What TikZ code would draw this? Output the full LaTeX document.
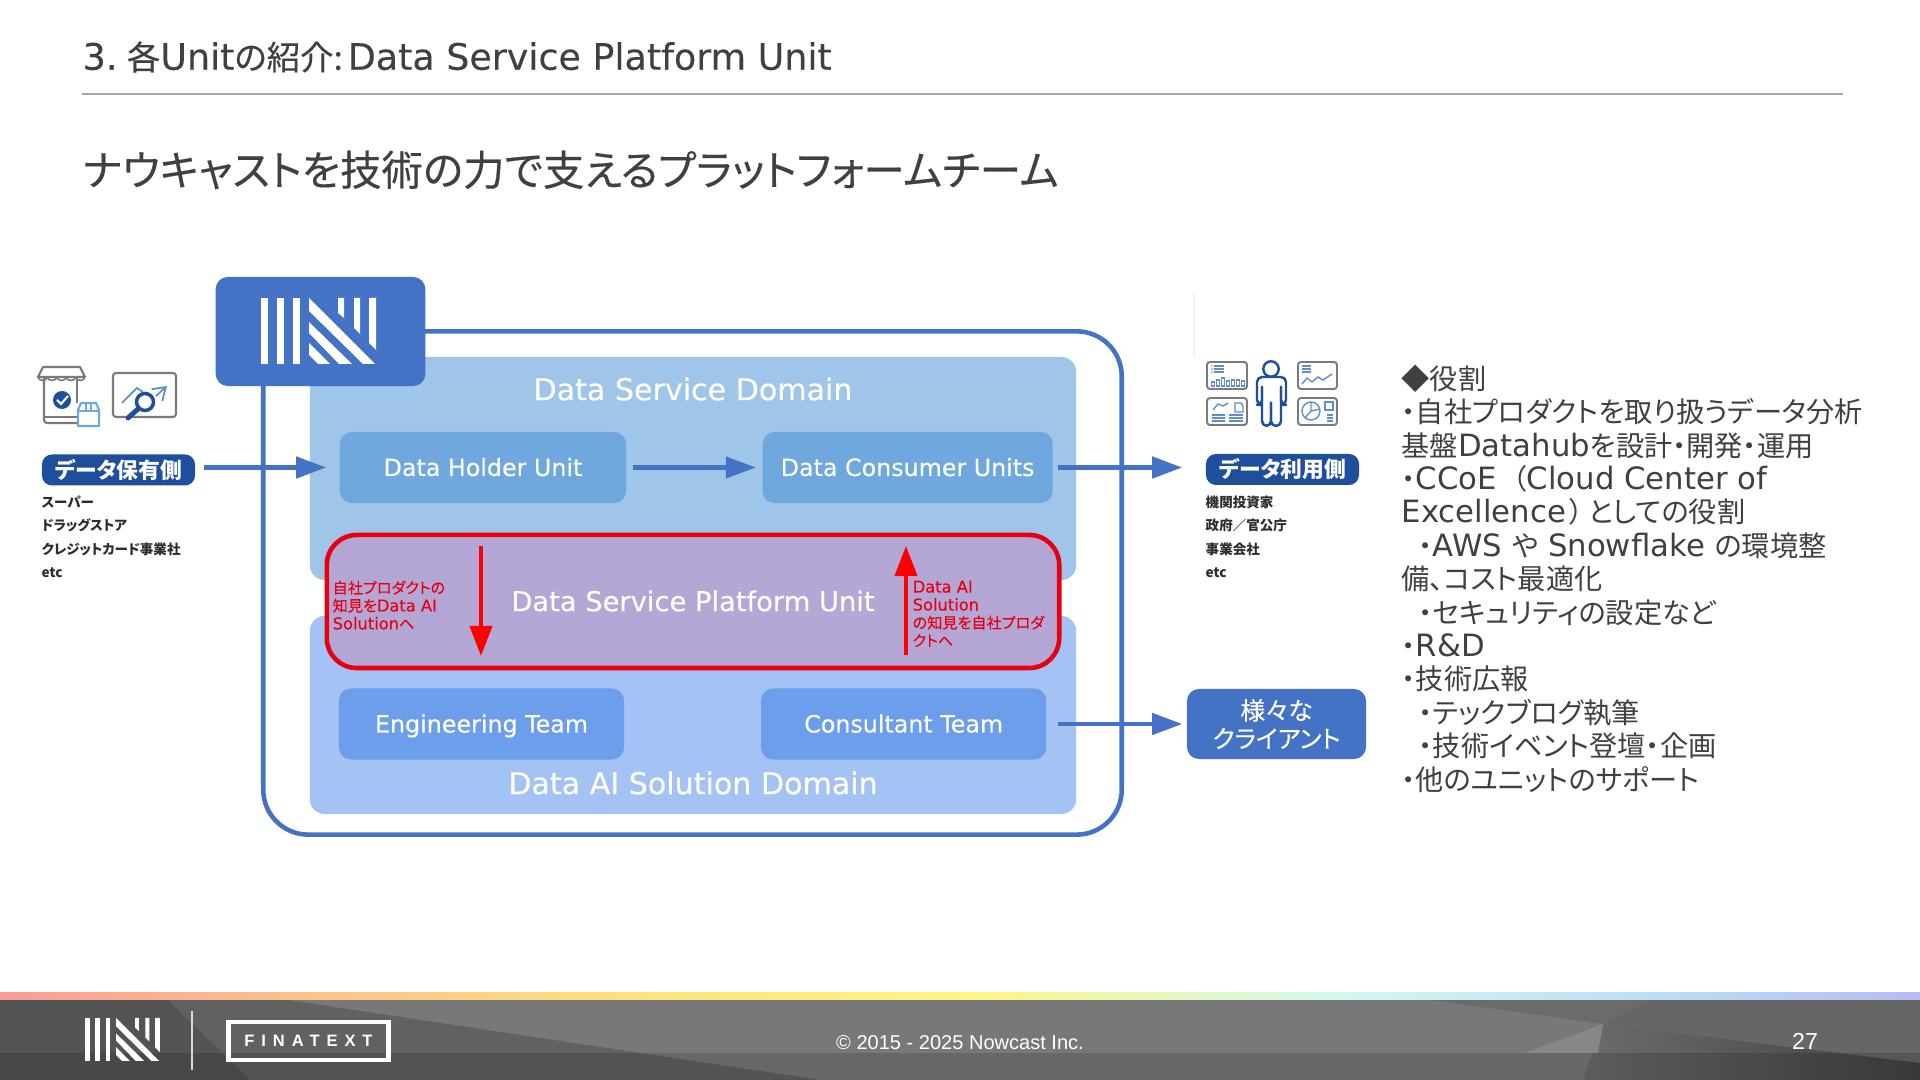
\documentclass[tikz,border=0pt]{standalone}
\usepackage{fontspec}
\setmainfont{DejaVu Sans}[Scale=1.09]
\newfontfamily\jpfont{Noto Sans CJK JP}[RawFeature=+palt]
\newfontfamily\jpmid{Noto Sans CJK JP}[RawFeature=+palt,FakeBold=.3]
\newfontfamily\latinmid{DejaVu Sans}[Scale=1.09,FakeBold=.2]
\newfontfamily\footfont{Liberation Sans}
\newfontfamily\brandfont{Liberation Sans}[LetterSpace=42]
\newcommand{\jp}[1]{{\jpfont #1}}
\newcommand{\jpm}[1]{{\jpmid #1}}
\usetikzlibrary{arrows.meta,calc,positioning}
\definecolor{inkgray}{HTML}{404040}
\definecolor{rulegray}{HTML}{A6A6A6}
\definecolor{iconblue}{HTML}{1F4E9C}
\definecolor{softblue}{HTML}{5F8FCB}
\definecolor{icongray}{HTML}{7A7A7A}
\definecolor{brandblue}{HTML}{4472C4}
\definecolor{serviceblue}{HTML}{9FC5E8}
\definecolor{holderblue}{HTML}{6FA8DC}
\definecolor{solutionblue}{HTML}{A4C2F4}
\definecolor{teamblue}{HTML}{6D9EEB}
\definecolor{platformpurple}{HTML}{B4A7D6}
\definecolor{alertred}{HTML}{E60012}
\definecolor{barA}{HTML}{DC6485}
\definecolor{barB}{HTML}{F8849C}
\definecolor{barC}{HTML}{FDBE8A}
\definecolor{barD}{HTML}{FDE47C}
\definecolor{barE}{HTML}{FFF580}
\definecolor{barF}{HTML}{D0F8F0}
\definecolor{barG}{HTML}{B8E0F5}
\definecolor{barH}{HTML}{B8A0F0}
\definecolor{barI}{HTML}{C4B0D0}
\pgfdeclarehorizontalshading{rainbowbar}{100bp}{
  color(0bp)=(barA);
  color(20bp)=(barB);
  color(32bp)=(barC);
  color(42bp)=(barD);
  color(50bp)=(barE);
  color(60bp)=(barF);
  color(68bp)=(barG);
  color(80bp)=(barH);
  color(88bp)=(barH);
  color(100bp)=(barI)}
\tikzset{
  domainbox/.style={rounded corners=1.5mm, minimum width=7.66cm},
  unitbox/.style={rounded corners=1.2mm, minimum height=7.1mm, text=white, text height=1.9mm, text depth=.2mm, font=\latinmid\fontsize{6.2}{7}\selectfont},
  domaintext/.style={text=white, inner sep=0pt, font=\latinmid\fontsize{7.85}{9}\selectfont},
  sidelabel/.style={rounded corners=1mm, fill=iconblue, text=white, minimum width=15.3mm, minimum height=3.1mm, inner sep=0pt, font=\jpfont\bfseries\fontsize{6.2}{7}\selectfont},
  sidelist/.style={anchor=north west, align=left, inner sep=0pt, text=inkgray!70!black, font=\jpfont\bfseries\fontsize{3.85}{6.7}\selectfont},
  redtext/.style={anchor=north west, align=left, inner sep=0pt, text=alertred, font=\jpmid\fontsize{4.3}{5.1}\selectfont},
  bluearrow/.style={-{Triangle[length=3mm,width=2.1mm]}, brandblue, line width=1.3pt},
  redarrow/.style={-{Triangle[length=3mm,width=2.2mm]}, red, line width=1.2pt},
  panel/.style={draw=icongray, line width=.55pt, rounded corners=.3mm, fill=white},
  iconline/.style={softblue, line width=.4pt},
  nlogo/.pic={
    \foreach \barx in {0,16,32} \fill (\barx,0) rectangle ++(7,66);
    \fill (48,0) -- (114,66) -- (102,66) -- (48,13) -- cycle;
    \fill (48,24) -- (91,66) -- (78,66) -- (48,35) -- cycle;
    \fill (48,45) -- (69,66) -- (57,66) -- (48,57) -- cycle;
    \fill (77,0) -- (83,0) -- (83,20) -- (77,15) -- cycle;
    \fill (93,0) -- (99,0) -- (99,36) -- (93,30) -- cycle;
    \fill (108,0) -- (115,0) -- (115,52) -- (108,45) -- cycle;
  }
}
\begin{document}
\begin{tikzpicture}[x=0.01cm,y=-0.01cm]
  \useasboundingbox (0,0) rectangle (1920,1080);
  \fill[white] (0,0) rectangle (1920,1080);

  % Slide heading
  \node[anchor=west, inner sep=0pt, text=inkgray, font=\latinmid\fontsize{9.5}{11}\selectfont] (slidetitle) at (82,57) {3.\hspace{.95mm}\jpm{各}Unit\jpm{の紹介:}\hspace{.5mm}Data Service Platform Unit};
  \draw[rulegray, line width=.4pt] (82,94) -- (1843,94);
  \node[anchor=west, inner sep=0pt, text=inkgray, font=\jpmid\fontsize{11.8}{13}\selectfont] (subtitle) at (82,170) {ナウキャストを技術の力で支えるプラットフォームチーム};

  % Outer frame and domains
  \node[draw=brandblue, line width=1.3pt, rounded corners=4.5mm, minimum width=8.58cm, minimum height=5.03cm] (frame) at (692.5,583) {};
  \node[domainbox, fill=serviceblue, minimum height=2.23cm] (servicedomain) at (693,468.5) {};
  \node[domainbox, fill=solutionblue, minimum height=1.98cm] (solutiondomain) at (693,715) {};
  \node[fill=brandblue, rounded corners=1.2mm, minimum width=2.095cm, minimum height=1.09cm] (logobox) at (320.5,331.5) {};
  \pic[white] at (261,298) {nlogo};

  % Units in the upper domain
  \node[domaintext] (servicetitle) at (693,389) {Data Service Domain};
  \node[unitbox, fill=holderblue, minimum width=2.86cm] (holder) at (483,467.5) {Data Holder Unit};
  \node[unitbox, fill=holderblue, minimum width=2.9cm, right=1.35cm of holder] (consumer) {Data Consumer Units};

  % Platform unit
  \node[draw=alertred, fill=platformpurple, line width=1.3pt, rounded corners=3mm, minimum width=7.32cm, minimum height=1.33cm] (platform) at (693,601.5) {};
  \node[text=white, inner sep=0pt, font=\latinmid\fontsize{7.13}{9}\selectfont] (platformtext) at (693,601) {Data Service Platform Unit};
  \node[redtext] (tosolution) at (332,580) {自社プロダクトの\\知見を{\latinmid\fontsize{4.25}{5.1}\selectfont Data AI}\\{\latinmid\fontsize{4.25}{5.1}\selectfont Solution}へ};
  \node[redtext] (toproduct) at (912,580) {{\latinmid\fontsize{4.25}{5.1}\selectfont Data AI}\\{\latinmid\fontsize{4.25}{5.1}\selectfont Solution}\\の知見を自社プロダ\\クトへ};
  \coordinate (downstart) at (481,546);
  \coordinate (downend) at (481,656);
  \coordinate (upstart) at (906,655);
  \coordinate (upend) at (906,546);
  \draw[redarrow] (downstart) -- (downend);
  \draw[redarrow] (upstart) -- (upend);

  % Units in the lower domain
  \node[unitbox, fill=teamblue, minimum width=2.85cm] (engineering) at (481.5,724) {Engineering Team};
  \node[unitbox, fill=teamblue, minimum width=2.85cm, right=1.355cm of engineering] (consultant) {Consultant Team};
  \node[domaintext] (solutiontitle) at (693,783) {Data AI Solution Domain};

  % Left side
  \node[sidelabel] (holderside) at (118.5,470) {データ保有側};
  \node[sidelist] (holderlist) at (41,495) {スーパー\\ドラッグストア\\クレジットカード事業社\\etc};

  % Right side
  \draw[black!5, line width=.3pt] (1194,292) -- (1194,357);
  \node[sidelabel] (userside) at (1282.5,469.5) {データ利用側};
  \node[sidelist] (userlist) at (1205,495) {機関投資家\\政府／官公庁\\事業会社\\etc};
  \node[fill=brandblue, rounded corners=1.2mm, minimum width=1.79cm, minimum height=.7cm, align=center, inner sep=0pt, text=white, font=\jpmid\fontsize{7}{8}\selectfont] (client) at (1276.5,724) {様々な\\クライアント};

  % Flow arrows
  \draw[bluearrow, shorten <=.8mm, shorten >=1.3mm] (holderside.east |- holder) -- (holder);
  \draw[bluearrow, shorten <=.6mm, shorten >=.6mm] (holder) -- (consumer);
  \draw[bluearrow, shorten <=.5mm, shorten >=2.3mm] (consumer) -- (userside.west |- consumer);
  \draw[bluearrow, shorten <=1.1mm, shorten >=.4mm] (consultant) -- (client);

  % Role description
  \node[anchor=west, align=left, inner sep=0pt, text=inkgray, font=\fontsize{8.02}{9.5}\selectfont] (roles) at (1401,578.5) {%
    \jp{◆役割}\\
    \jp{・自社プロダクトを取り扱うデータ分析}\\
    \jp{基盤}Datahub\jp{を設計・開発・運用}\\
    \jp{・}CCoE \hspace{.6mm}\jp{（}Cloud Center of\\
    Excellence\hspace{.4mm}\jp{）\hspace{.4mm}としての役割}\\
    \hspace{1.7mm}\jp{・}AWS \jp{や} Snowflake \jp{の環境整}\\
    \jp{備、コスト最適化}\\
    \hspace{1.7mm}\jp{・セキュリティの設定など}\\
    \jp{・}R\&D\\
    \jp{・技術広報}\\
    \hspace{1.7mm}\jp{・テックブログ執筆}\\
    \hspace{1.7mm}\jp{・技術イベント登壇・企画}\\
    \jp{・他のユニットのサポート}};

  % Shop icon
  \draw[icongray, line width=.6pt, rounded corners=.3mm] (44,377) -- (44,423) -- (78,423);
  \draw[icongray, line width=.6pt] (77,377) -- (77,403) (44,417) -- (78,417);
  \draw[icongray, line width=.6pt, fill=white, line join=round] (43,367) -- (80,367) -- (85,377) -- (38,377) -- cycle;
  \foreach \scallop in {38,47.4,56.8,66.2,75.6}
    \draw[icongray, line width=.45pt] (\scallop,377) arc[start angle=180, end angle=360, x radius=4.7, y radius=-3.5];
  \fill[iconblue] (62,400) circle (9);
  \draw[white, line width=.6pt] (57,400) -- (61,404) -- (68,396);
  \draw[holderblue, line width=.6pt, fill=white, line join=round] (78,410) -- (81,403) -- (96,403) -- (99,410) -- (99,426) -- (78,426) -- cycle;
  \draw[holderblue, line width=.45pt] (78,411) -- (99,411) (86,404) -- (86,410) (91,404) -- (91,410);

  % Chart icon
  \draw[icongray, line width=.6pt, rounded corners=.3mm] (113,373) rectangle (176,417);
  \draw[softblue, line width=.5pt] (122,403) -- (137,388) -- (143,392);
  \draw[softblue, line width=.5pt, -{Straight Barb[length=1.2mm,width=1.6mm]}] (156,396) -- (167,386);
  \draw[iconblue, line width=1pt] (145,402) circle (8.5);
  \draw[iconblue, line width=1.4pt, line cap=round] (138,409) -- (128,418);

  % User panels and person
  \draw[panel] (1207,362) rectangle (1247,389);
  \draw[panel] (1207,398) rectangle (1247,425);
  \draw[panel] (1298,362) rectangle (1337,389);
  \draw[panel] (1298,398) rectangle (1337,425);
  \foreach \liney in {366,369,372} {
    \draw[iconline] (1214,\liney) -- (1224,\liney);
    \fill[softblue] (1212,\liney) circle (.8);
  }
  \foreach \barx/\bartop in {1213/382,1218/380,1223/378,1228/381,1233/380,1238/380,1243/381}
    \draw[iconline] (\barx-1.5,386) rectangle (\barx+1.5,\bartop);
  \draw[iconline] (1302,366) -- (1311,366) (1302,369) -- (1311,369) (1302,372) -- (1311,372);
  \draw[iconline] (1302,384) -- (1307,378) -- (1312,382) -- (1318,377) -- (1323,380) -- (1332,374);
  \draw[iconline] (1213,410) -- (1218,404) -- (1223,406) -- (1228,403);
  \draw[iconline] (1235,403) -- (1241,403) -- (1243,406) -- (1243,412) -- (1235,412) -- cycle;
  \foreach \liney in {415,418,421}
    \draw[iconline] (1212,\liney) -- (1225,\liney) (1229,\liney) -- (1243,\liney);
  \draw[iconline] (1311,411) circle (9);
  \draw[iconline] (1311,402) -- (1311,411) -- (1320,409) (1311,411) -- (1305,418);
  \draw[iconline] (1325,402) rectangle (1333,410);
  \foreach \liney in {415,418,421}
    \draw[iconline] (1327,\liney) -- (1333,\liney);
  \draw[iconblue, line width=.7pt] (1271,369) circle (7.7);
  \draw[iconblue, line width=.7pt, rounded corners=.5mm, line join=round]
    (1262,386) -- (1262,405) -- (1257,405) -- (1257,377) -- (1286,377) -- (1286,405) -- (1281,405) -- (1281,386);
  \draw[iconblue, line width=.7pt, rounded corners=.5mm, line join=round]
    (1262,388) -- (1262,426) -- (1271,426) -- (1271,402);
  \draw[iconblue, line width=.7pt, rounded corners=.5mm, line join=round]
    (1271,402) -- (1271,426) -- (1281,426) -- (1281,388);

  % Footer
  \fill[black!53] (0,1000) rectangle (1920,1080);
  \fill[black!62] (0,1000) -- (288,1000) -- (820,1080) -- (0,1080) -- cycle;
  \fill[black!67] (0,1000) -- (168,1000) -- (250,1080) -- (0,1080) -- cycle;
  \fill[black!58] (1431,1000) -- (1649,1000) -- (1603,1024) -- cycle;
  \fill[black!60] (1649,1000) -- (1920,1000) -- (1920,1063) -- (1603,1024) -- cycle;
  \shade[left color=black!58, right color=black!74] (1603,1024) -- (1920,1063) -- (1920,1080) -- (1583,1080) -- cycle;
  \fill[black!47] (1525,1053) -- (1603,1024) -- (1598,1053) -- cycle;
  \fill[black, opacity=.14] (0,1053) rectangle (1920,1080);
  \shade[shading=rainbowbar] (0,993) rectangle (1920,1000);
  \pic[white, scale=.65] at (85,1018) {nlogo};
  \draw[white!85!black, line width=.4pt] (192,1011) -- (192,1070);
  \node[draw=white, line width=1.3pt, minimum width=1.6cm, minimum height=.38cm, inner sep=0pt, text=white, font=\brandfont\bfseries\fontsize{4.7}{5}\selectfont] (finatext) at (308.5,1041) {FINATEXT};
  \node[text=white, inner sep=0pt, font=\footfont\fontsize{5.7}{7}\selectfont] (copyright) at (960,1043) {© 2015 - 2025 Nowcast Inc.};
  \node[text=white, inner sep=0pt, font=\footfont\fontsize{6.6}{7}\selectfont] (pagenumber) at (1805,1041) {27};
\end{tikzpicture}
\end{document}
